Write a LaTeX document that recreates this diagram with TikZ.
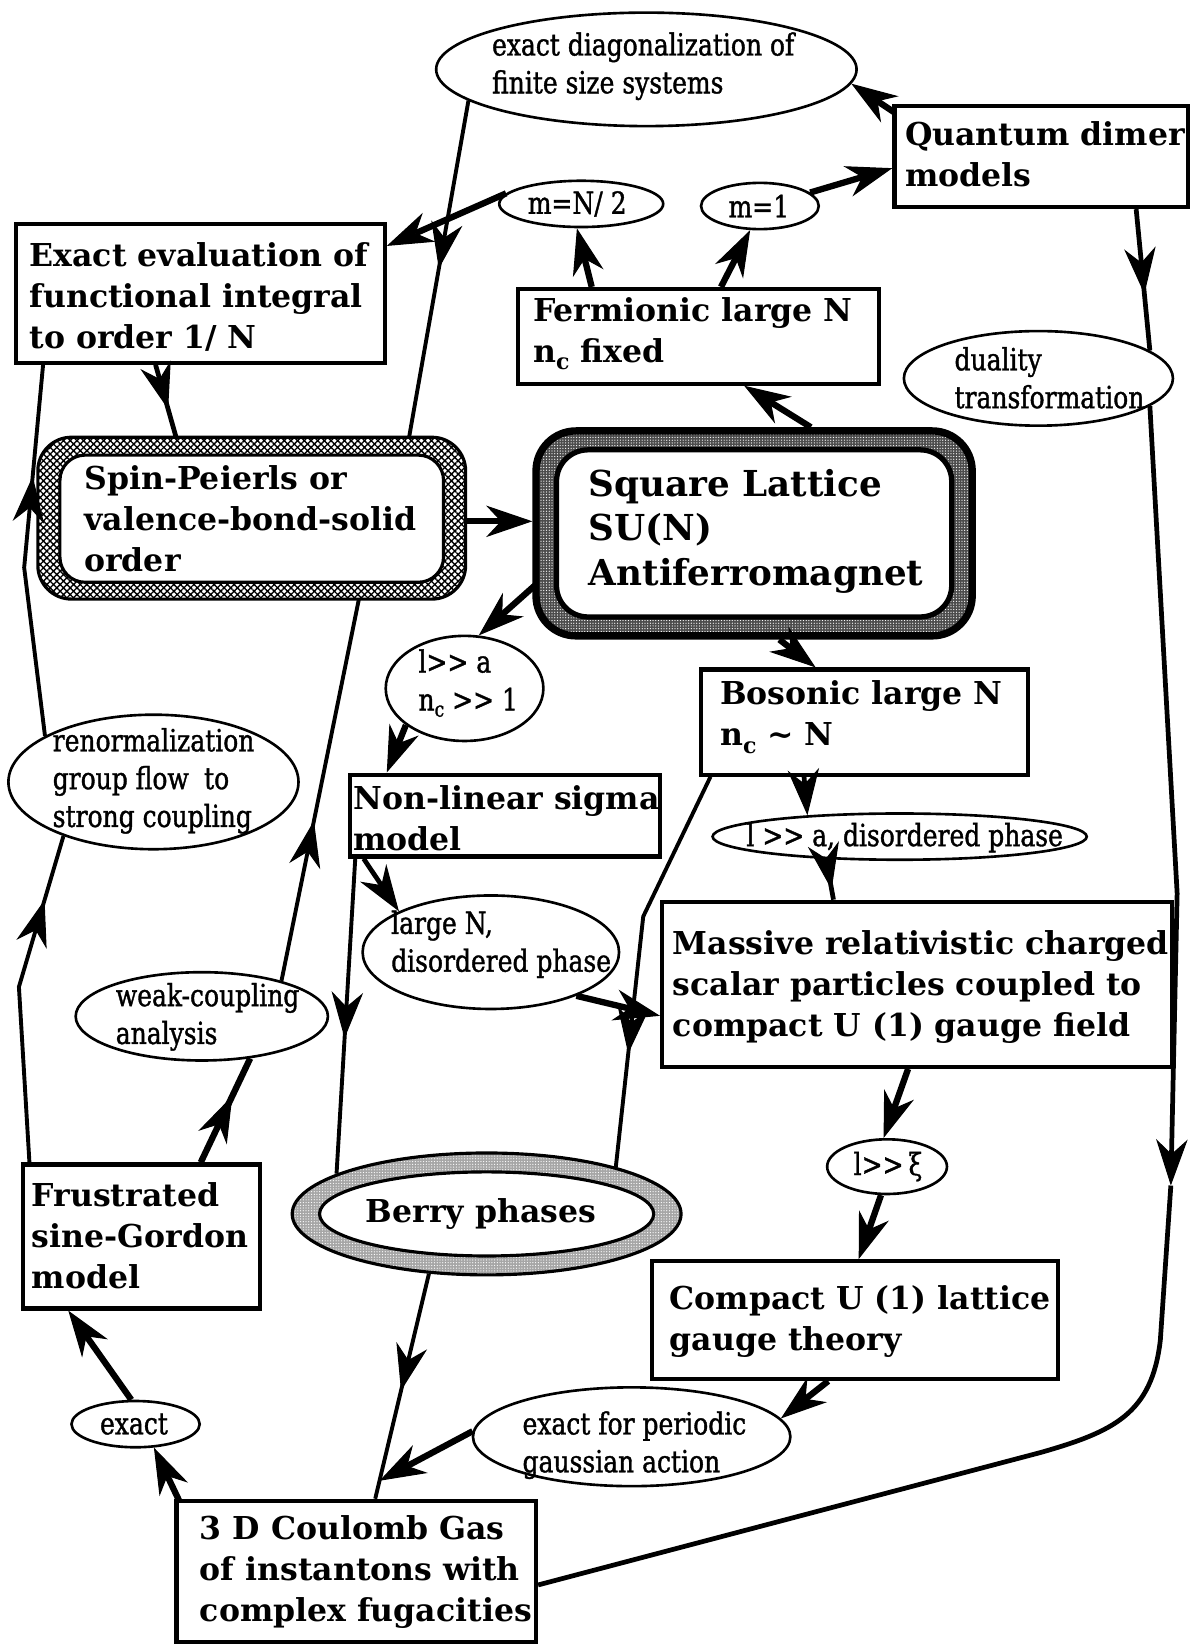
\documentclass[tikz,border=0pt]{standalone}
\usepackage{fontspec}
\setmainfont{DejaVu Serif}
\newfontfamily\lblfont[FakeStretch=0.82,FakeBold=1.2]{DejaVu Serif}
\usetikzlibrary{arrows.meta,shapes.geometric,decorations.markings,calc,patterns.meta}
\newcommand\mygg{>\kern0pt>}
\newcommand\lowbc{\raisebox{-7pt}{\fontsize{21}{21}\selectfont c}}
\newcommand\lowc{\raisebox{-6pt}{\fontsize{20}{20}\selectfont c}}
\tikzset{
  barb/.tip={Stealth[length=44pt,width=30pt,inset=14pt,line width=1pt]},
  bx/.style={draw,line width=4pt,fill=white,inner sep=0pt},
  el/.style={draw,ellipse,line width=2.5pt,fill=white,inner sep=0pt},
  bt/.style={anchor=west,align=left,inner sep=0pt,font=\bfseries\fontsize{30}{39}\selectfont},
  lt/.style={anchor=west,align=left,inner sep=0pt,font=\lblfont\fontsize{29}{36}\selectfont},
  thk/.style={line width=6pt},
  med/.style={line width=4.5pt},
  thn/.style={line width=3.7pt},
  ea/.style={-{barb}},
  ma/.style={postaction={decorate,decoration={markings,mark=at position #1 with {\arrow{barb}}}}},
}
\begin{document}
\begin{tikzpicture}[x=1pt,y=-1pt]
\useasboundingbox (0,0) rectangle (1133,1568);

% ---------- nodes ----------
\node[el,minimum width=400pt,minimum height=108pt] (A) at (615,66) {};
\node[lt] (At) at (468,63) {exact diagonalization of\\finite size systems};
\node[bx,minimum width=279pt,minimum height=96pt] (B) at (990.5,149) {};
\node[bt] (Bt) at (861,146.5) {Quantum dimer\\models};
\node[el,minimum width=156pt,minimum height=44pt] (C) at (553,194) {};
\node[lt] (Ct) at (502,194) {m=N/ 2};
\node[el,minimum width=112pt,minimum height=44pt] (D) at (723,196) {};
\node[lt] (Dt) at (693,196) {m=1};
\node[bx,minimum width=351pt,minimum height=132pt] (E) at (190.5,279) {};
\node[bt] (Et) at (28,282.7) {Exact evaluation of\\functional integral\\to order 1/ N};
\node[bx,minimum width=343pt,minimum height=90pt] (F) at (664.5,320) {};
\node[bt] (Ft) at (507,317.5) {Fermionic large N\\n\lowbc\ fixed};
\node[el,minimum width=256pt,minimum height=90pt] (G) at (988,360) {};
\node[lt] (Gt) at (908,359.5) {duality\\transformation};

\node[draw,line width=3pt,rounded corners=32pt,minimum width=407pt,minimum height=154pt,preaction={fill=white},pattern={Hatch[distance=4.5pt,angle=45,line width=1.3pt]}] (H) at (239.5,493) {};
\node[draw,line width=3pt,rounded corners=24pt,fill=white,minimum width=365pt,minimum height=121pt] (Hin) at (239.5,493.5) {};
\node[bt] (Ht) at (80,493.7) {Spin-Peierls or\\valence-bond-solid\\order};

\node[draw,line width=7pt,rounded corners=38pt,minimum width=415pt,minimum height=195pt,preaction={fill=black!70},pattern={Dots[distance=2.6pt,radius=0.6pt]},pattern color=white] (I) at (717.5,507.5) {};
\node[draw,line width=5pt,rounded corners=30pt,fill=white,minimum width=376pt,minimum height=159pt] (Iin) at (717.5,507.5) {};
\node[bt,font=\bfseries\fontsize{34}{42.5}\selectfont] (It) at (560,505.3) {Square Lattice\\SU(N)\\Antiferromagnet};

\node[el,minimum width=150pt,minimum height=100pt] (J) at (442,655) {};
\node[lt] (Jt) at (398,650) {l\mygg\ a\\n\lowc\ \mygg\ 1};
\node[bx,minimum width=311pt,minimum height=100pt] (K) at (822.5,687) {};
\node[bt] (Kt) at (685,682.5) {Bosonic large N\\n\lowbc\ \textasciitilde\ N};
\node[bx,minimum width=295pt,minimum height=78pt] (L) at (480.5,776) {};
\node[bt] (Lt) at (336,778.5) {Non-linear sigma\\model};
\node[el,minimum width=276pt,minimum height=128pt] (M) at (146,744) {};
\node[lt] (Mt) at (50,743) {renormalization\\group flow\enspace to\\strong coupling};
\node[el,minimum width=356pt,minimum height=44pt] (N) at (856,796) {};
\node[lt] (Nt) at (710,797) {l \mygg\ a, disordered phase};
\node[el,minimum width=244pt,minimum height=108pt] (O) at (467,906) {};
\node[lt] (Ot) at (372,898.5) {large N,\\disordered phase};
\node[bx,minimum width=485pt,minimum height=157pt] (P) at (872.5,936.5) {};
\node[bt] (Pt) at (640,939) {Massive relativistic charged\\scalar particles coupled to\\compact U (1) gauge field};
\node[el,minimum width=240pt,minimum height=84pt] (Q) at (192,967) {};
\node[lt] (Qt) at (110,967.5) {weak-coupling\\analysis};
\node[el,minimum width=114pt,minimum height=52pt] (R) at (844,1110) {};
\node[lt] (Rt) at (812,1110) {l\mygg\,ξ};
\node[bx,minimum width=225pt,minimum height=137pt] (S) at (134.5,1176.5) {};
\node[bt] (St) at (30,1176) {Frustrated\\sine-Gordon\\model};
\node[draw,ellipse,line width=3pt,minimum width=370pt,minimum height=116pt,preaction={fill=black!35},pattern={Dots[distance=2.6pt,radius=0.6pt]},pattern color=white] (T) at (463,1155) {};
\node[draw,ellipse,line width=3pt,fill=white,minimum width=318pt,minimum height=80pt] (Tin) at (463,1155) {};
\node[bt] (Tt) at (348,1155) {Berry phases};
\node[bx,minimum width=387pt,minimum height=112pt] (U) at (813.5,1256) {};
\node[bt] (Ut) at (637,1257) {Compact U (1) lattice\\gauge theory};
\node[el,minimum width=122pt,minimum height=44pt] (V) at (129,1355) {};
\node[lt] (Vt) at (95,1355) {exact};
\node[el,minimum width=302pt,minimum height=94pt] (W) at (601,1367) {};
\node[lt] (Wt) at (497,1375) {exact for periodic\\gaussian action};
\node[bx,minimum width=342pt,minimum height=134pt] (X) at (339,1495) {};
\node[bt] (Xt) at (190,1496) {3 D Coulomb Gas\\of instantons with\\complex fugacities};

% ---------- connectors ----------
\draw[thk,ea] ($(B.north west)+(2,8)$) -- (A.-4);
\draw[thk,ea] (D.15) -- ($(B.west)+(0,11)$);
\draw[thk,ea] (C.172) -- ($(E.north east)+(0,23)$);
\draw[thk,ea] ($(F.north west)+(72,0)$) -- (C.-100);
\draw[thk,ea] ($(F.north west)+(195,0)$) -- (D.-112);
\draw[thn,ma=0.5] (A.-170) -- ($(H.north west)+(354,0)$);
\draw[med,ma=0.62] ($(E.south west)+(135,0)$) -- ($(H.north west)+(132,0)$);
\draw[med,ma=0.6] ($(B.south west)+(232,0)$) -- (G.14);
\coordinate (g1) at (1120,850);
\coordinate (g2) at (1114,1128);
\coordinate (g3) at (1104,1275);
\coordinate (g4) at (990,1382);
\draw[med,ea] (G.-14) -- (g1) -- (g2);
\draw[med] (g2) -- (g3) .. controls (1096,1345) and (1060,1362) .. (g4) -- ($(X.east)+(0,13)$);
\draw[thk,ea] ($(H.east)+(0,3)$) -- ($(I.west)+(0,-11.5)$);
\draw[thk,ea] ($(I.north west)+(265,0)$) -- ($(F.south west)+(217,0)$);
\draw[thk,ea] ($(I.north west)+(3,150)$) -- (J.75);
\draw[thk,ea] ($(I.south west)+(235,0)$) -- ($(K.north west)+(111,0)$);
\draw[thk,ea] (J.-148) -- ($(L.north west)+(37,0)$);
\draw[med,ea] ($(K.south west)+(100,0)$) -- (N.167);
\draw[med,ma=0.75] (N.-163) -- ($(P.north west)+(165,0)$);
\draw[med,ea] ($(L.south west)+(15,0)$) -- (O.156);
\draw[thn,ma=0.57] ($(L.south west)+(7,0)$) -- (T.165);
\coordinate (kt) at (612,872);
\draw[thn,ma=0.72] ($(K.south west)+(11,0)$) -- (kt) -- (T.20);
\draw[thk,ea] (O.-27) -- ($(P.west)+(0,30)$);
\draw[thk,ea] ($(P.south west)+(236,0)$) -- (R.97);
\draw[thk,ea] (R.-102) -- ($(U.north west)+(199,0)$);
\draw[thk,ea] ($(U.south west)+(170,0)$) -- (W.7);
\draw[thn,ma=0.52] (T.-134) -- coordinate[pos=0.92] (jx) ($(X.north west)+(191,0)$);
\draw[thk,ea] (W.178) -- (jx);
\draw[thk,ea] ($(X.north west)+(5,3)$) -- (V.-52);
\draw[thk,ea] (V.100) -- ($(S.south west)+(45,0)$);
\draw[thk,ma=0.64] ($(S.north west)+(171,0)$) -- (Q.-41);
\draw[thn,ma=0.42] (Q.24) -- ($(H.south west)+(306,0)$);
\coordinate (l1) at (18,939);
\coordinate (l2) at (23,540);
\draw[thn,ma=0.8] ($(S.north west)+(8,0)$) -- (l1) -- (M.-149);
\draw[thn,ma=0.7] (M.157) -- (l2) -- ($(E.south west)+(28,0)$);
\end{tikzpicture}
\end{document}
